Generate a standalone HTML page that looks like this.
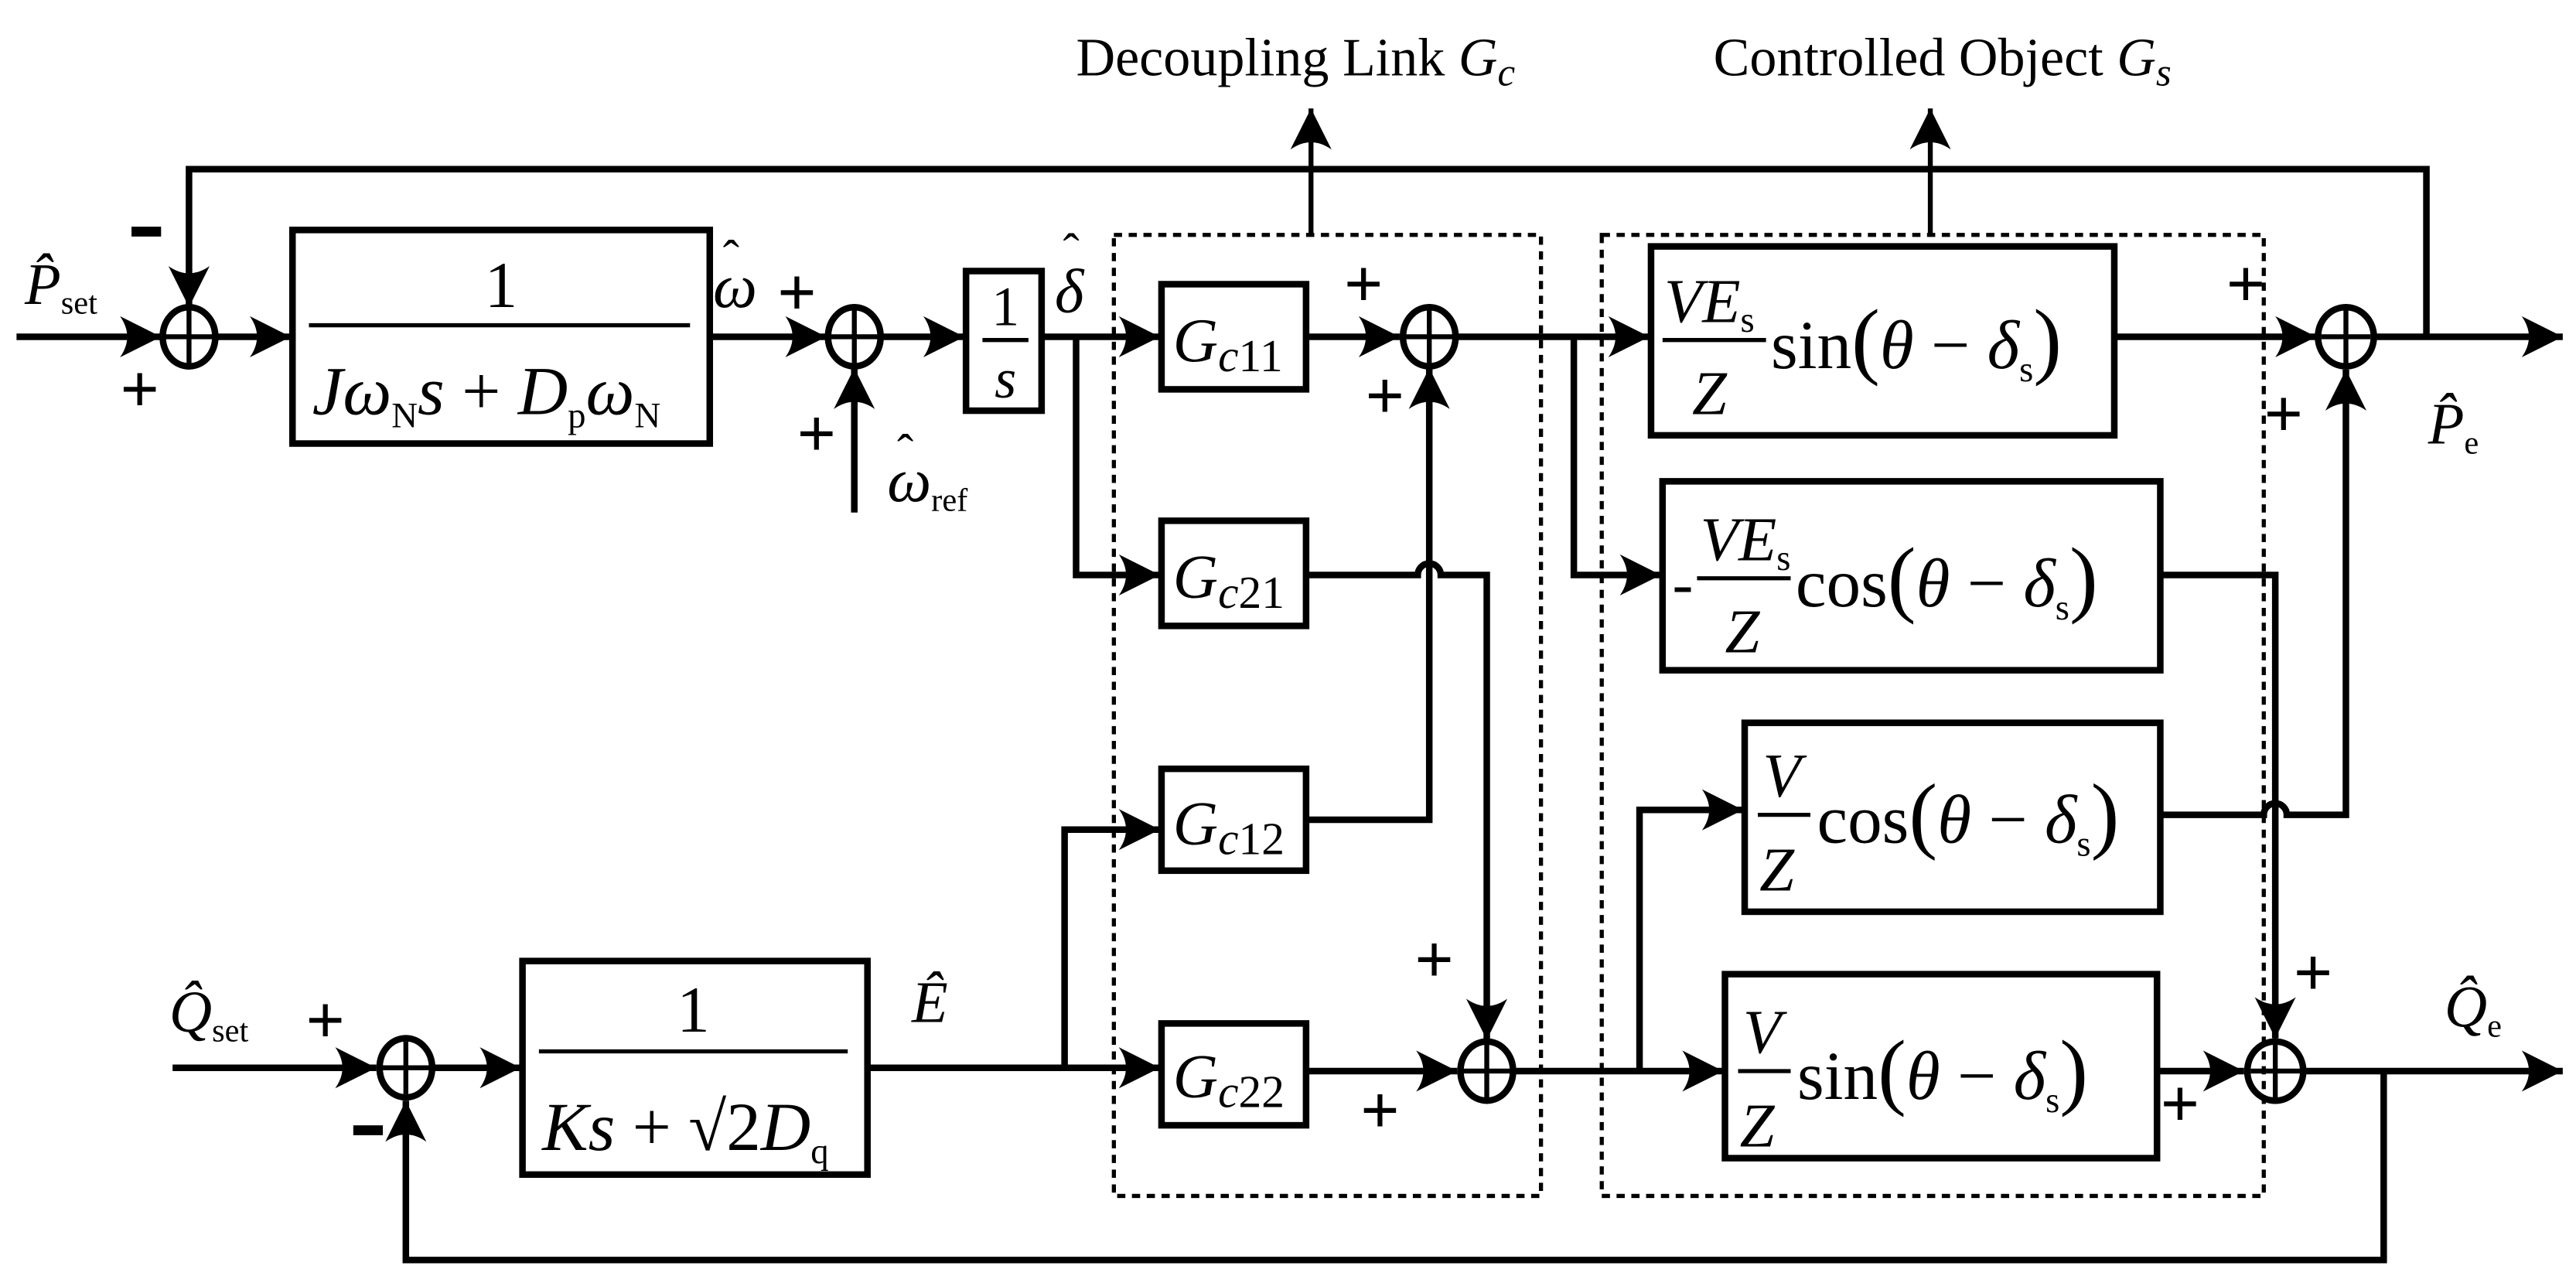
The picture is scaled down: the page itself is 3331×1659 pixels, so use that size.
<!DOCTYPE html>
<html><head><meta charset="utf-8">
<style>
html,body{margin:0;padding:0;background:#fff;}
svg{display:block;}
text{font-family:"Liberation Serif",serif;fill:#000;}
.i{font-style:italic;}
</style></head>
<body>
<svg width="3331" height="1659" viewBox="0 0 1568 781" xmlns="http://www.w3.org/2000/svg">
<defs>
<marker id="a" markerUnits="userSpaceOnUse" markerWidth="30" markerHeight="30" refX="0" refY="0" viewBox="-22 -12 24 24" orient="auto">
<path d="M0,0 L-20,-10 Q-13,0 -20,10 Z" fill="#000"/>
</marker>
</defs>
<g fill="none" stroke="#000" stroke-width="4">
<polyline points="1477,205 1477,103 115,103 115,187" marker-end="url(#a)"/>
<line x1="10" y1="205" x2="98" y2="205" marker-end="url(#a)"/>
<ellipse cx="115" cy="205" rx="16" ry="18"/>
<line x1="100" y1="205" x2="130" y2="205" stroke-width="3"/><line x1="115" y1="189" x2="115" y2="221" stroke-width="3"/>
<line x1="131" y1="205" x2="177" y2="205" marker-end="url(#a)"/>
<rect x="178" y="140" width="254" height="130"/>
<line x1="432" y1="205" x2="503" y2="205" marker-end="url(#a)"/>
<ellipse cx="520" cy="205" rx="16" ry="18"/>
<line x1="505" y1="205" x2="535" y2="205" stroke-width="3"/><line x1="520" y1="189" x2="520" y2="221" stroke-width="3"/>
<line x1="520" y1="312" x2="520" y2="224" marker-end="url(#a)"/>
<line x1="536" y1="205" x2="587" y2="205" marker-end="url(#a)"/>
<rect x="588" y="165" width="46" height="85"/>
<line x1="634" y1="205" x2="706" y2="205" marker-end="url(#a)"/>
<polyline points="655,205 655,350 706,350" marker-end="url(#a)"/>
<rect x="707" y="173" width="88" height="64"/>
<rect x="707" y="317" width="88" height="64"/>
<rect x="707" y="468" width="88" height="62"/>
<rect x="707" y="623" width="88" height="62"/>
<line x1="795" y1="205" x2="852" y2="205" marker-end="url(#a)"/>
<ellipse cx="870" cy="205" rx="16" ry="18"/>
<line x1="855" y1="205" x2="885" y2="205" stroke-width="3"/><line x1="870" y1="189" x2="870" y2="221" stroke-width="3"/>
<polyline points="795,499 870,499 870,224" marker-end="url(#a)"/>
<path d="M795,350 L863,350 A7,7 0 0 1 877,350 L905,350 L905,633" marker-end="url(#a)"/>
<ellipse cx="905" cy="652" rx="16" ry="18"/>
<line x1="890" y1="652" x2="920" y2="652" stroke-width="3"/><line x1="905" y1="636" x2="905" y2="668" stroke-width="3"/>
<line x1="795" y1="652" x2="887" y2="652" marker-end="url(#a)"/>
<line x1="105" y1="650" x2="229" y2="650" marker-end="url(#a)"/>
<ellipse cx="247" cy="650" rx="16" ry="18"/>
<line x1="232" y1="650" x2="262" y2="650" stroke-width="3"/><line x1="247" y1="634" x2="247" y2="666" stroke-width="3"/>
<line x1="263" y1="650" x2="317" y2="650" marker-end="url(#a)"/>
<rect x="318" y="585" width="210" height="130"/>
<line x1="528" y1="650" x2="706" y2="650" marker-end="url(#a)"/>
<polyline points="648,650 648,505 706,505" marker-end="url(#a)"/>
<polyline points="1451,652 1451,767 247,767 247,670" marker-end="url(#a)"/>
<line x1="887" y1="205" x2="1004" y2="205" marker-end="url(#a)"/>
<polyline points="958,205 958,350 1011,350" marker-end="url(#a)"/>
<rect x="1005" y="150" width="282" height="115"/>
<rect x="1012" y="293" width="303" height="115"/>
<rect x="1062" y="440" width="253" height="115"/>
<rect x="1050" y="593" width="263" height="112"/>
<line x1="921" y1="652" x2="1049" y2="652" marker-end="url(#a)"/>
<polyline points="998,652 998,493 1061,493" marker-end="url(#a)"/>
<line x1="1287" y1="205" x2="1410" y2="205" marker-end="url(#a)"/>
<ellipse cx="1428" cy="205" rx="17" ry="18"/>
<line x1="1413" y1="205" x2="1443" y2="205" stroke-width="3"/><line x1="1428" y1="189" x2="1428" y2="221" stroke-width="3"/>
<line x1="1445" y1="205" x2="1560" y2="205" marker-end="url(#a)"/>
<polyline points="1315,350 1385,350 1385,632" marker-end="url(#a)"/>
<path d="M1315,496 L1378,496 A7,7 0 0 1 1392,496 L1428,496 L1428,225" marker-end="url(#a)"/>
<line x1="1313" y1="652" x2="1366" y2="652" marker-end="url(#a)"/>
<ellipse cx="1385" cy="652" rx="17" ry="18"/>
<line x1="1370" y1="652" x2="1400" y2="652" stroke-width="3"/><line x1="1385" y1="636" x2="1385" y2="668" stroke-width="3"/>
<line x1="1402" y1="652" x2="1560" y2="652" marker-end="url(#a)"/>
<line x1="798" y1="143" x2="798" y2="66" stroke-width="3" marker-end="url(#a)"/>
<line x1="1175" y1="143" x2="1175" y2="66" stroke-width="3" marker-end="url(#a)"/>
<rect x="678" y="143" width="260" height="585" stroke-width="2.5" stroke-dasharray="5,4"/>
<rect x="975" y="143" width="403" height="585" stroke-width="2.5" stroke-dasharray="5,4"/>
<line x1="188" y1="198" x2="420" y2="198" stroke-width="2.5"/>
<line x1="598" y1="207" x2="626" y2="207" stroke-width="2.5"/>
<line x1="328" y1="640" x2="516" y2="640" stroke-width="2.5"/>
<line x1="1012" y1="207" x2="1075" y2="207" stroke-width="2.5"/>
<line x1="1033" y1="352" x2="1090" y2="352" stroke-width="2.5"/>
<line x1="1070" y1="496" x2="1102" y2="496" stroke-width="2.5"/>
<line x1="1058" y1="652" x2="1090" y2="652" stroke-width="2.5"/>
<!-- minus signs -->
<line x1="80" y1="141" x2="98" y2="141" stroke-width="6"/>
<line x1="215" y1="688" x2="233" y2="688" stroke-width="6"/>
</g>
<g font-family="Liberation Sans" font-weight="bold" font-size="42" text-anchor="middle">
<text x="85" y="251">+</text>
<text x="485" y="192">+</text>
<text x="497" y="278">+</text>
<text x="830" y="187">+</text>
<text x="843" y="255">+</text>
<text x="873" y="598">+</text>
<text x="840" y="690">+</text>
<text x="198" y="635">+</text>
<text x="1367" y="187">+</text>
<text x="1390" y="266">+</text>
<text x="1408" y="606">+</text>
<text x="1327" y="686">+</text>
</g>
<text x="655" y="46" font-size="33">Decoupling Link <tspan class="i">G</tspan><tspan class="i" font-size="24" dy="6">c</tspan></text>
<text x="1043" y="46" font-size="33">Controlled Object <tspan class="i">G</tspan><tspan class="i" font-size="24" dy="6">s</tspan></text>
<text x="15" y="185" font-size="36" class="i">P̂<tspan font-style="normal" font-size="20" dy="6">set</tspan></text>
<text x="434" y="187" font-size="38" class="i">ω</text>
<text x="440" y="167" font-size="30">ˆ</text>
<text x="540" y="305" font-size="38" class="i">ω<tspan font-style="normal" font-size="20" dy="6">ref</tspan></text>
<text x="546" y="285" font-size="30">ˆ</text>
<text x="642" y="190" font-size="38" class="i">δ</text>
<text x="647" y="163" font-size="30">ˆ</text>
<text x="555" y="622" font-size="36" class="i">Ê</text>
<text x="103" y="628" font-size="36" class="i">Q̂<tspan font-style="normal" font-size="20" dy="6">set</tspan></text>
<text x="1478" y="270" font-size="36" class="i">P̂<tspan font-style="normal" font-size="20" dy="6">e</tspan></text>
<text x="1488" y="625" font-size="36" class="i">Q̂<tspan font-style="normal" font-size="20" dy="6">e</tspan></text>
<text x="305" y="187" font-size="40" text-anchor="middle">1</text>
<text x="190" y="252" font-size="42" class="i">Jω<tspan font-style="normal" font-size="22" dy="8">N</tspan><tspan dy="-8">s</tspan><tspan font-style="normal"> + </tspan>D<tspan font-style="normal" font-size="22" dy="8">p</tspan><tspan dy="-8">ω</tspan><tspan font-style="normal" font-size="22" dy="8">N</tspan></text>
<text x="612" y="198" font-size="34" text-anchor="middle">1</text>
<text x="612" y="242" font-size="34" class="i" text-anchor="middle">s</text>
<text x="422" y="628" font-size="40" text-anchor="middle">1</text>
<text x="330" y="700" font-size="42" class="i">Ks<tspan font-style="normal"> + √2</tspan>D<tspan font-style="normal" font-size="22" dy="8">q</tspan></text>
<text x="714" y="220" font-size="38"><tspan class="i">G</tspan><tspan class="i" font-size="28" dy="6">c</tspan><tspan font-size="28">11</tspan></text>
<text x="714" y="364" font-size="38"><tspan class="i">G</tspan><tspan class="i" font-size="28" dy="6">c</tspan><tspan font-size="28">21</tspan></text>
<text x="714" y="514" font-size="38"><tspan class="i">G</tspan><tspan class="i" font-size="28" dy="6">c</tspan><tspan font-size="28">12</tspan></text>
<text x="714" y="668" font-size="38"><tspan class="i">G</tspan><tspan class="i" font-size="28" dy="6">c</tspan><tspan font-size="28">22</tspan></text>
<text x="1013" y="196" font-size="38" class="i">VE<tspan font-style="normal" font-size="22" dy="6">s</tspan></text>
<text x="1030" y="252" font-size="38" class="i">Z</text>
<text x="1078" y="224" font-size="42">sin<tspan font-size="52">(</tspan><tspan class="i">θ</tspan> − <tspan class="i">δ</tspan><tspan font-size="22" dy="8">s</tspan><tspan font-size="52" dy="-8">)</tspan></text>
<text x="1018" y="368" font-size="38">-</text>
<text x="1035" y="341" font-size="38" class="i">VE<tspan font-style="normal" font-size="22" dy="6">s</tspan></text>
<text x="1050" y="397" font-size="38" class="i">Z</text>
<text x="1093" y="369" font-size="42">cos<tspan font-size="52">(</tspan><tspan class="i">θ</tspan> − <tspan class="i">δ</tspan><tspan font-size="22" dy="8">s</tspan><tspan font-size="52" dy="-8">)</tspan></text>
<text x="1073" y="485" font-size="38" class="i">V</text>
<text x="1071" y="542" font-size="38" class="i">Z</text>
<text x="1106" y="513" font-size="42">cos<tspan font-size="52">(</tspan><tspan class="i">θ</tspan> − <tspan class="i">δ</tspan><tspan font-size="22" dy="8">s</tspan><tspan font-size="52" dy="-8">)</tspan></text>
<text x="1061" y="641" font-size="38" class="i">V</text>
<text x="1059" y="698" font-size="38" class="i">Z</text>
<text x="1094" y="669" font-size="42">sin<tspan font-size="52">(</tspan><tspan class="i">θ</tspan> − <tspan class="i">δ</tspan><tspan font-size="22" dy="8">s</tspan><tspan font-size="52" dy="-8">)</tspan></text>
</svg>
</body></html>
